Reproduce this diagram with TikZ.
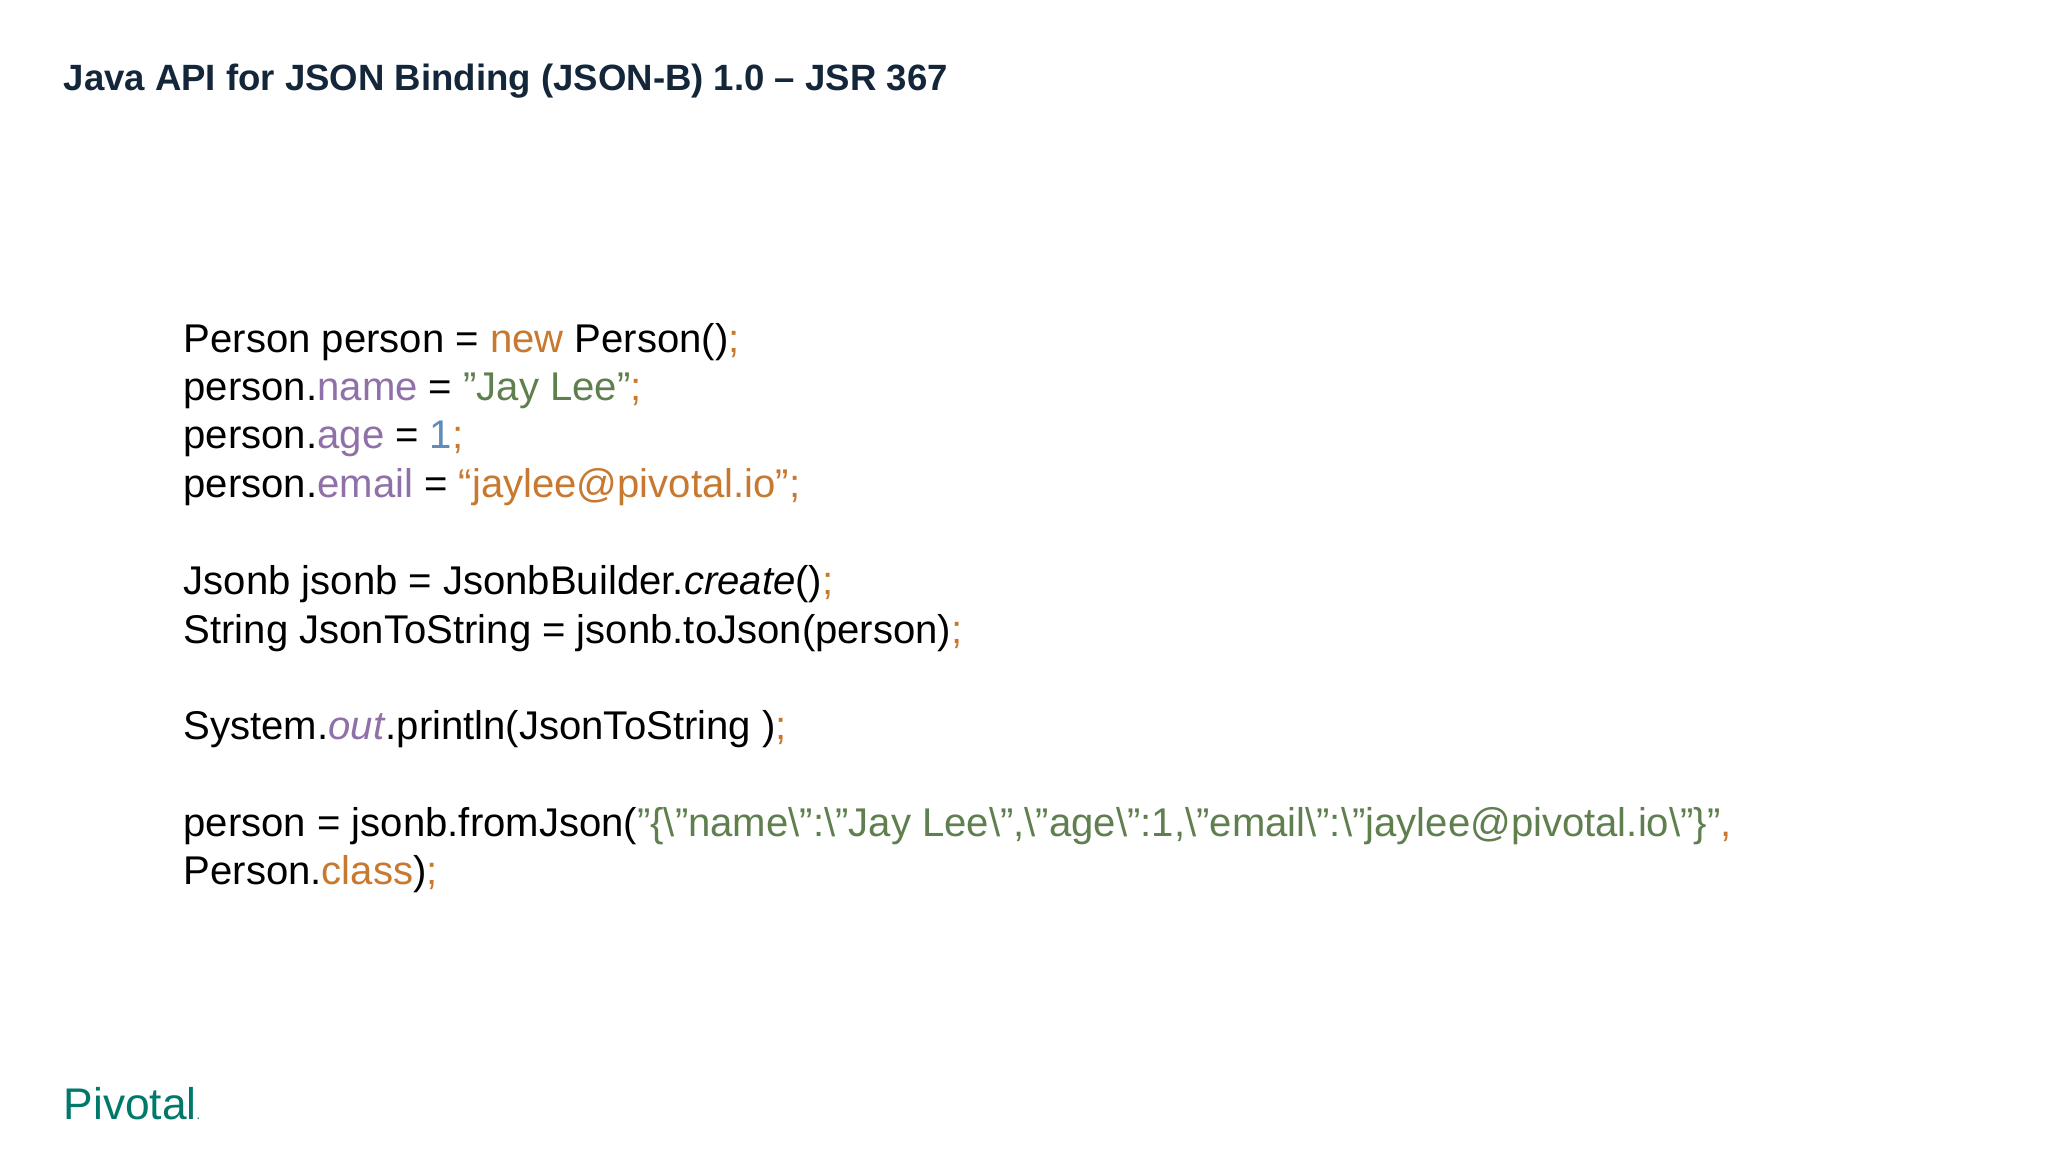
\documentclass[tikz,border=0pt]{standalone}
\usepackage{fontspec}
\setmainfont{Liberation Sans}
\definecolor{titlec}{HTML}{14263A}
\definecolor{kw}{HTML}{C8782F}
\definecolor{fld}{HTML}{9070A8}
\definecolor{str}{HTML}{5F7F4E}
\definecolor{num}{HTML}{5E8DB8}
\definecolor{piv}{HTML}{00796B}
\newcommand{\K}[1]{\textcolor{kw}{#1}}
\newcommand{\F}[1]{\textcolor{fld}{#1}}
\newcommand{\Sg}[1]{\textcolor{str}{#1}}
\newcommand{\N}[1]{\textcolor{num}{#1}}
\newcommand{\bs}{\textbackslash}
\begin{document}
\begin{tikzpicture}[x=0.01cm,y=-0.01cm,
  code/.style={anchor=base west,inner sep=0pt,font=\fontsize{11.4pt}{13pt}\selectfont,text=black}]
\useasboundingbox[fill=white] (0,0) rectangle (2048,1152);
\node[anchor=base west,inner sep=0pt,font=\fontsize{10.4pt}{12pt}\selectfont\bfseries,text=titlec] (title) at (63,91) {Java API for JSON Binding (JSON-B) 1.0 – JSR 367};
\node[code] (l1) at (183,353) {Person person = \K{new} Person()\K{;}};
\node[code] (l2) at (183,401) {person.\F{name} = \Sg{”Jay Lee"}\K{;}};
\node[code] (l3) at (183,449) {person.\F{age} = \N{1}\K{;}};
\node[code] (l4) at (183,498) {person.\F{email} = \K{“jaylee@pivotal.io”;}};
\node[code] (l5) at (183,594) {Jsonb jsonb = JsonbBuilder.\textit{create}()\K{;}};
\node[code] (l6) at (183,643) {String JsonToString = jsonb.toJson(person)\K{;}};
\node[code] (l7) at (183,739) {System.\F{\textit{out}}.println(JsonToString )\K{;}};
\node[code] (l8) at (183,836) {person = jsonb.fromJson(\Sg{"\{\bs"name\bs":\bs”Jay Lee\bs",\bs"age\bs":1,\bs”email\bs":\bs”jaylee@pivotal.io\bs"\}"}\K{,}};
\node[code] (l9) at (183,884) {Person.\K{class})\K{;}};
\node[anchor=base west,inner sep=0pt,font=\fontsize{12.6pt}{14pt}\selectfont,text=piv] (logo) at (63,1119) {Pivotal\scalebox{0.3}{.}};
\end{tikzpicture}
\end{document}
